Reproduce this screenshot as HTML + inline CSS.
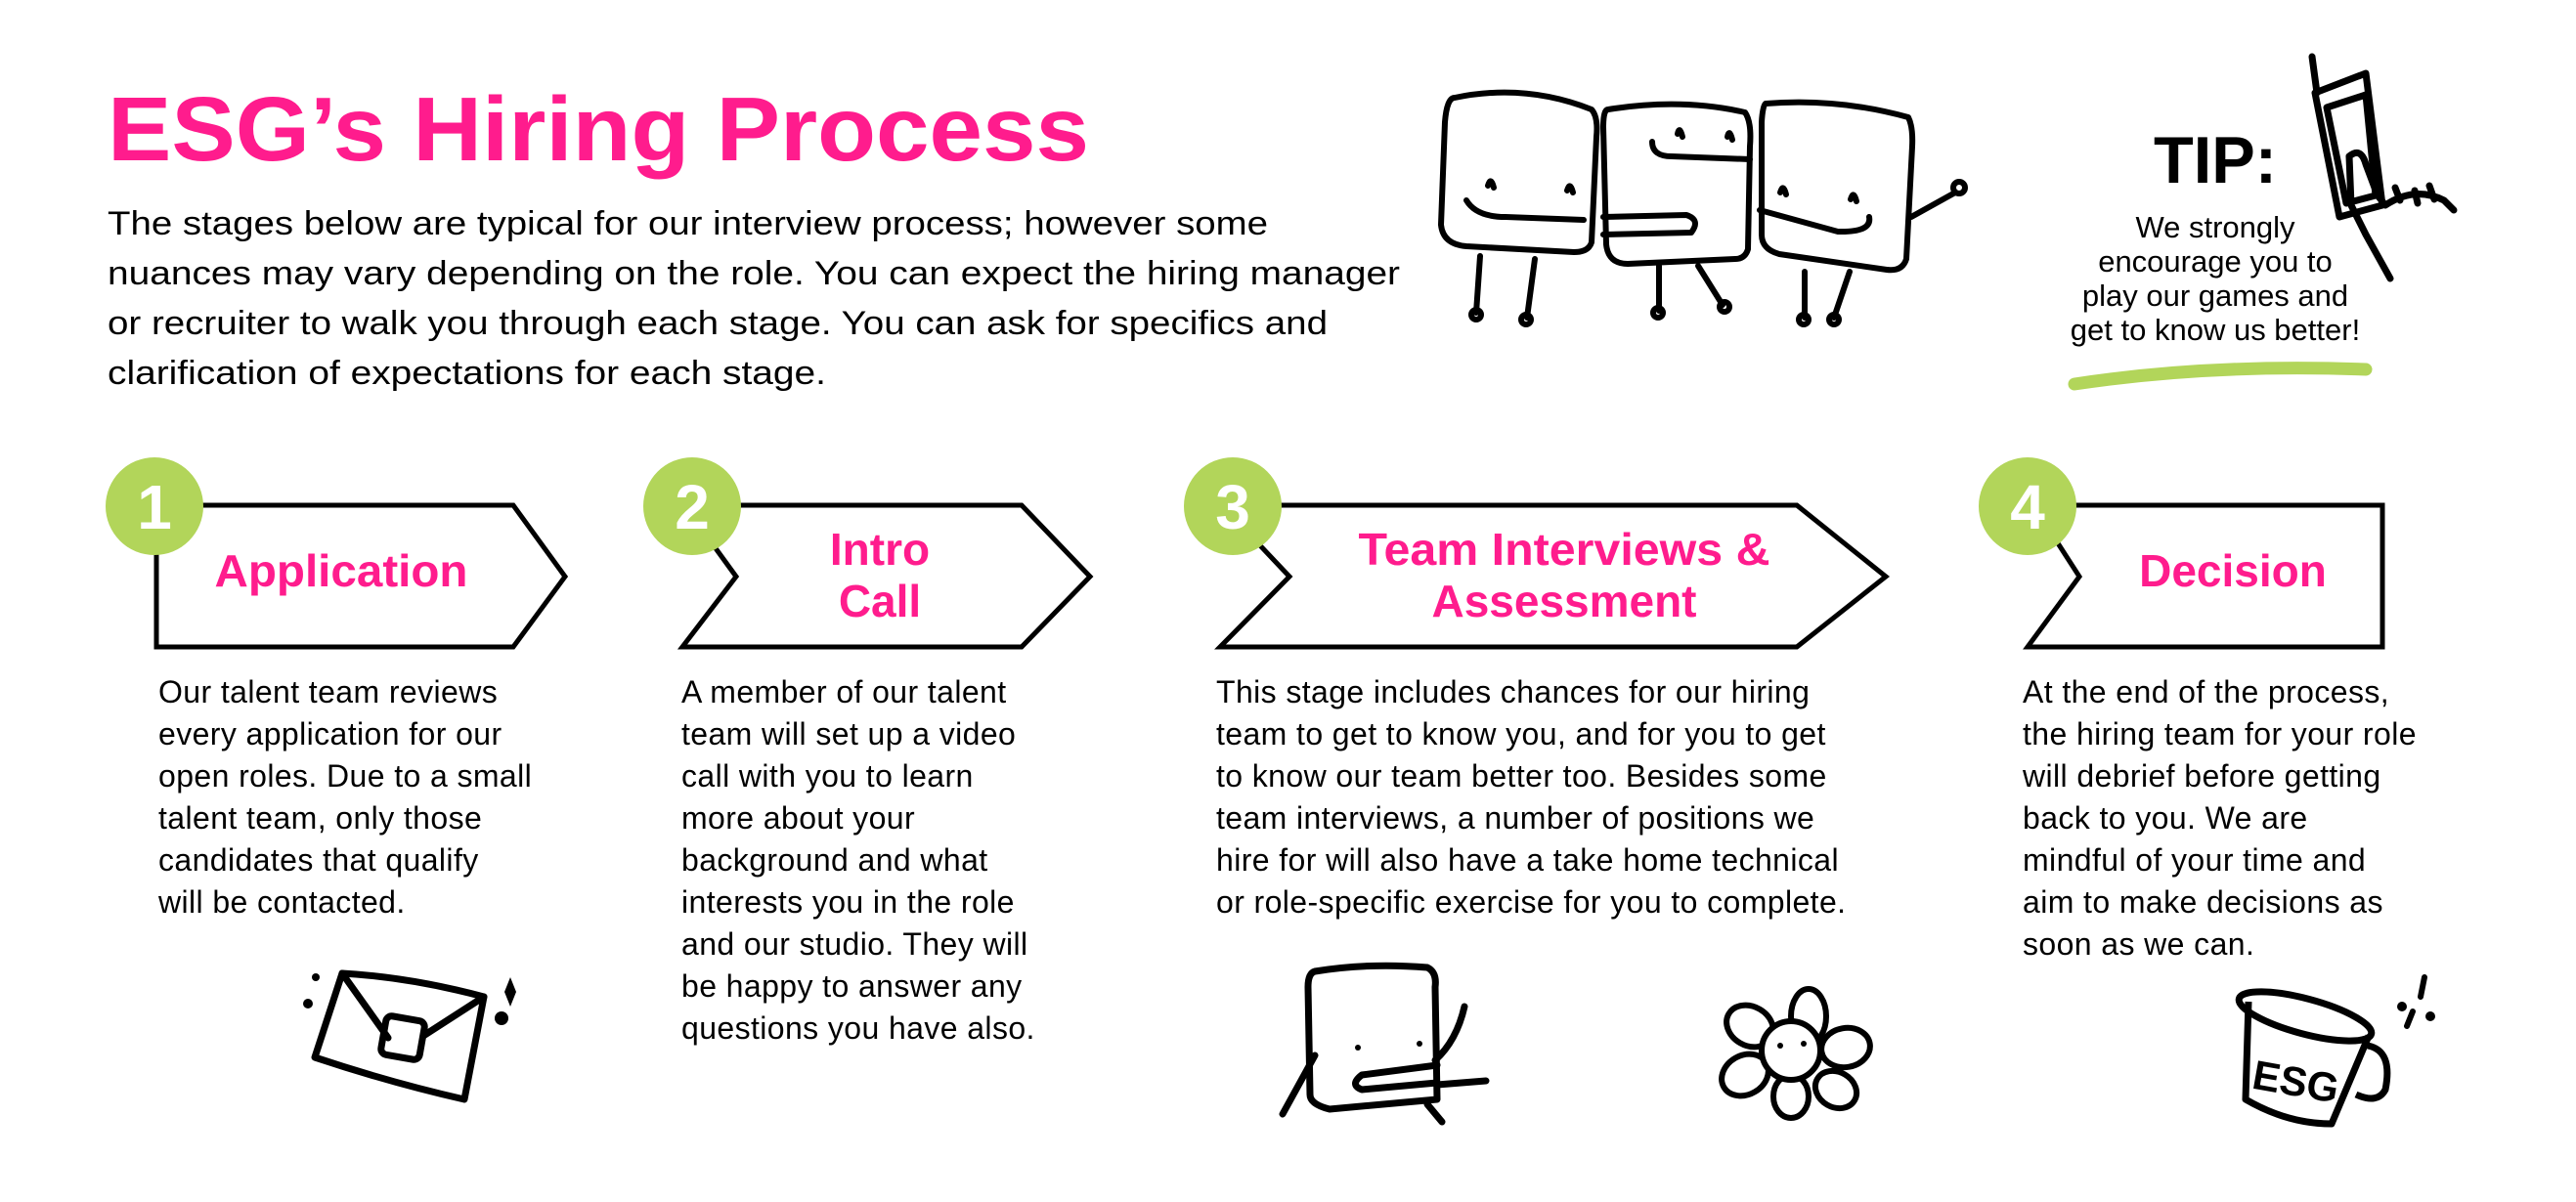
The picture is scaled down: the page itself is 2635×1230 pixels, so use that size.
<!DOCTYPE html>
<html><head><meta charset="utf-8"><style>
html,body{margin:0;padding:0;background:#fff;}
svg{display:block;}
text{font-family:"Liberation Sans",sans-serif;}
</style></head><body>
<svg width="2635" height="1230" viewBox="0 0 2635 1230" xmlns="http://www.w3.org/2000/svg">
<rect width="2635" height="1230" fill="#fff"/>
<text x="110" y="164" font-size="93" font-weight="bold" fill="#ff1c8d" textLength="1004" lengthAdjust="spacingAndGlyphs">ESG’s Hiring Process</text>
<g font-size="34" fill="#000">
<text x="110" y="240" textLength="1187" lengthAdjust="spacingAndGlyphs">The stages below are typical for our interview process; however some</text>
<text x="110" y="291" textLength="1322" lengthAdjust="spacingAndGlyphs">nuances may vary depending on the role. You can expect the hiring manager</text>
<text x="110" y="342" textLength="1248" lengthAdjust="spacingAndGlyphs">or recruiter to walk you through each stage. You can ask for specifics and</text>
<text x="110" y="393" textLength="735" lengthAdjust="spacingAndGlyphs">clarification of expectations for each stage.</text>
</g>

<g fill="none" stroke="#000" stroke-width="5" stroke-linejoin="miter">
<path d="M160 517 L525 517 L578 590 L525 662 L160 662 Z"/>
<path d="M700 517 L1045 517 L1115 590 L1045 662 L698 662 L753 590 L700 517"/>
<path d="M1250 517 L1838 517 L1929 590 L1838 662 L1248 662 L1319 590 L1250 517"/>
<path d="M2080 517 L2437 517 L2437 662 L2074 662 L2127 590 L2080 517"/>
</g>
<g fill="#b2d55a">
<circle cx="158" cy="518" r="50"/>
<circle cx="708" cy="518" r="50"/>
<circle cx="1261" cy="518" r="50"/>
<circle cx="2074" cy="518" r="50"/>
</g>
<g fill="#fff" font-size="64" font-weight="bold" text-anchor="middle">
<text x="158" y="541">1</text><text x="708" y="541">2</text><text x="1261" y="541">3</text><text x="2074" y="541">4</text>
</g>
<g fill="#ff1c8d" font-size="46" font-weight="bold" text-anchor="middle">
<text x="349" y="600" textLength="259" lengthAdjust="spacingAndGlyphs">Application</text>
<text x="900" y="578">Intro</text><text x="900" y="631">Call</text>
<text x="1600" y="578" textLength="421" lengthAdjust="spacingAndGlyphs">Team Interviews &amp;</text><text x="1600" y="631">Assessment</text>
<text x="2284" y="600">Decision</text>
</g>

<g font-size="32" fill="#000" letter-spacing="0.4">
<text x="162" y="719">Our talent team reviews</text>
<text x="162" y="762">every application for our</text>
<text x="162" y="805">open roles. Due to a small</text>
<text x="162" y="848">talent team, only those</text>
<text x="162" y="891">candidates that qualify</text>
<text x="162" y="934">will be contacted.</text>

<text x="697" y="719">A member of our talent</text>
<text x="697" y="762">team will set up a video</text>
<text x="697" y="805">call with you to learn</text>
<text x="697" y="848">more about your</text>
<text x="697" y="891">background and what</text>
<text x="697" y="934">interests you in the role</text>
<text x="697" y="977">and our studio. They will</text>
<text x="697" y="1020">be happy to answer any</text>
<text x="697" y="1063">questions you have also.</text>

<text x="1244" y="719">This stage includes chances for our hiring</text>
<text x="1244" y="762">team to get to know you, and for you to get</text>
<text x="1244" y="805">to know our team better too. Besides some</text>
<text x="1244" y="848">team interviews, a number of positions we</text>
<text x="1244" y="891">hire for will also have a take home technical</text>
<text x="1244" y="934">or role-specific exercise for you to complete.</text>

<text x="2069" y="719">At the end of the process,</text>
<text x="2069" y="762">the hiring team for your role</text>
<text x="2069" y="805">will debrief before getting</text>
<text x="2069" y="848">back to you. We are</text>
<text x="2069" y="891">mindful of your time and</text>
<text x="2069" y="934">aim to make decisions as</text>
<text x="2069" y="977">soon as we can.</text>
</g>

<text x="2203" y="187" font-size="68" font-weight="bold" fill="#000" textLength="126" lengthAdjust="spacingAndGlyphs">TIP:</text>
<g font-size="31" fill="#000" text-anchor="middle">
<text x="2266" y="243">We strongly</text>
<text x="2266" y="278">encourage you to</text>
<text x="2266" y="313">play our games and</text>
<text x="2266" y="348">get to know us better!</text>
</g>
<path d="M2122 393 Q2260 372 2420 378" stroke="#b2d55a" stroke-width="13" stroke-linecap="round" fill="none"/>

<g fill="none" stroke="#000" stroke-width="7" stroke-linecap="round" stroke-linejoin="round">
<path d="M2365 58 L2370 95"/>
<path d="M2368 95 L2420 75 L2437 210 L2393 222 L2368 95 Z"/>
<path d="M2380 110 L2420 97 L2430 200 L2400 208 Z"/>
<path d="M2403 160 Q2415 150 2420 168 L2432 200 L2440 210 Q2470 190 2500 205 L2510 215"/>
<path d="M2403 160 L2405 210 L2420 240 L2445 285"/>
<path d="M2450 192 L2455 205 M2470 195 L2473 208 M2485 190 L2490 204"/>
</g>

<g fill="none" stroke="#000" stroke-width="6" stroke-linecap="round" stroke-linejoin="round">
<path d="M1488 100 Q1560 85 1628 112 Q1635 120 1633 140 L1628 248 Q1625 258 1610 258 L1500 252 Q1476 250 1474 230 L1478 125 Q1480 100 1488 100 Z"/>
<path d="M1514 262 L1510 320 M1570 265 L1562 325"/>
<circle cx="1510" cy="322" r="5"/><circle cx="1561" cy="327" r="5"/>
<path d="M1522 190 Q1525 180 1528 192 M1603 195 Q1606 185 1609 197"/>
<path d="M1500 205 Q1510 222 1540 222 L1620 225"/>
<path d="M1645 112 Q1720 100 1785 115 Q1792 125 1790 150 L1788 255 Q1785 265 1775 265 L1665 270 Q1645 270 1643 250 L1640 130 Q1640 112 1645 112 Z"/>
<path d="M1697 272 L1697 318 M1737 272 L1762 312"/>
<circle cx="1696" cy="320" r="5"/><circle cx="1764" cy="314" r="5"/>
<path d="M1716 137 Q1718 128 1721 140 M1767 140 Q1769 131 1772 143"/>
<path d="M1690 145 Q1690 160 1710 160 L1790 163"/>
<path d="M1640 222 L1725 220 Q1740 225 1730 238 L1640 240"/>
<path d="M1806 106 Q1880 100 1952 120 Q1957 130 1956 150 L1950 265 Q1946 278 1930 276 L1820 260 Q1802 255 1802 240 L1802 125 Q1803 108 1806 106 Z"/>
<path d="M1846 278 L1846 325 M1892 278 L1876 325"/>
<circle cx="1845" cy="327" r="5"/><circle cx="1876" cy="327" r="5"/>
<path d="M1821 197 Q1824 187 1827 199 M1893 204 Q1896 194 1899 206"/>
<path d="M1800 215 L1880 237 Q1915 238 1912 222"/>
<path d="M1955 222 L2000 197"/><circle cx="2004" cy="192" r="6"/>
</g>

<g fill="none" stroke="#000" stroke-width="7" stroke-linecap="round" stroke-linejoin="round">
<path d="M350 996 Q420 1000 495 1020 L475 1125 Q400 1108 322 1082 Z"/>
<path d="M350 996 L397 1062 M495 1020 L433 1060"/>
<rect x="392" y="1042" width="40" height="40" rx="6" transform="rotate(10 412 1062)"/>
</g>
<g fill="#000"><circle cx="323" cy="1000" r="4"/><circle cx="315" cy="1027" r="5"/><circle cx="513" cy="1042" r="7"/><path d="M522 1000 L528 1015 L522 1030 L516 1015 Z"/></g>

<g fill="none" stroke="#000" stroke-width="7" stroke-linecap="round" stroke-linejoin="round">
<path d="M1345 994 Q1400 985 1460 990 Q1470 995 1468 1010 L1470 1125 L1360 1135 Q1340 1130 1340 1120 L1338 1010 Q1338 996 1345 994 Z"/>
<path d="M1468 1085 Q1490 1065 1498 1030"/>
<path d="M1345 1080 L1312 1140 M1470 1110 L1520 1106 M1460 1130 L1475 1148"/>
<path d="M1470 1090 L1393 1100 Q1380 1110 1393 1115 L1470 1108"/>
</g>
<g fill="#000"><circle cx="1389" cy="1072" r="3"/><circle cx="1452" cy="1068" r="3"/></g>

<g fill="none" stroke="#000" stroke-width="6">
<ellipse cx="1850" cy="1040" rx="18" ry="28"/>
<ellipse cx="1790" cy="1050" rx="25" ry="20" transform="rotate(30 1790 1050)"/>
<ellipse cx="1888" cy="1072" rx="25" ry="20" transform="rotate(-10 1888 1072)"/>
<ellipse cx="1785" cy="1100" rx="25" ry="20" transform="rotate(-30 1785 1100)"/>
<ellipse cx="1878" cy="1115" rx="22" ry="18" transform="rotate(30 1878 1115)"/>
<ellipse cx="1832" cy="1122" rx="18" ry="22"/>
<circle cx="1832" cy="1075" r="30" fill="#fff"/>
</g>
<g fill="#000"><circle cx="1821" cy="1070" r="3"/><circle cx="1845" cy="1068" r="3"/></g>

<g fill="none" stroke="#000" stroke-width="7" stroke-linejoin="round">
<ellipse cx="2358" cy="1040" rx="70" ry="18" transform="rotate(15 2358 1040)"/>
<path d="M2300 1025 L2297 1125 Q2340 1150 2385 1150 L2423 1060"/>
<path d="M2422 1070 Q2448 1075 2440 1115 Q2432 1130 2410 1120"/>
</g>
<text x="2305" y="1118" font-size="42" font-weight="bold" fill="#000" transform="rotate(10 2330 1100)">ESG</text>
<g stroke="#000" stroke-width="6" stroke-linecap="round"><path d="M2476 1020 L2480 1000 M2462 1050 L2468 1035"/></g>
<circle cx="2457" cy="1030" r="5" fill="#000"/><circle cx="2486" cy="1040" r="5" fill="#000"/>
</svg>
</body></html>
